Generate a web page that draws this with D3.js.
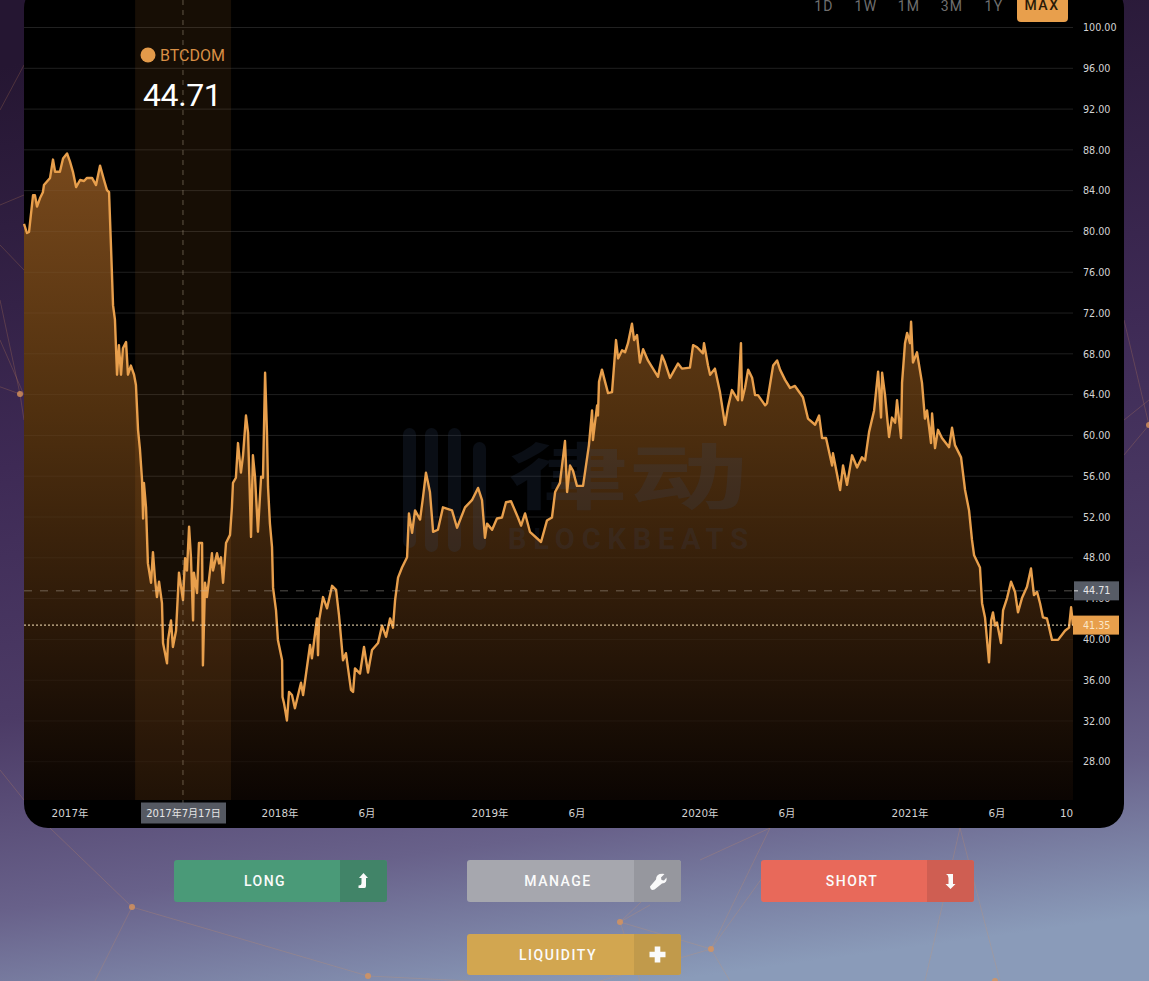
<!DOCTYPE html>
<html><head><meta charset="utf-8">
<style>html,body{margin:0;padding:0;background:#3a2850;overflow:hidden}svg{display:block}</style>
<script src="https://cdn.jsdelivr.net/npm/d3@7"></script></head><body>
<script>
// years since 2017-01-01
const yearsSince2017 = [-0.219,-0.205,-0.195,-0.176,-0.167,-0.157,-0.143,-0.129,-0.124,-0.095,-0.081,-0.071,-0.048,-0.033,-0.014,0,0.014,0.029,0.048,0.067,0.081,0.105,0.124,0.143,0.162,0.176,0.186,0.195,0.205,0.214,0.224,0.233,0.243,0.252,0.267,0.276,0.29,0.305,0.314,0.324,0.333,0.343,0.348,0.352,0.362,0.371,0.386,0.395,0.405,0.414,0.424,0.438,0.443,0.462,0.467,0.481,0.49,0.505,0.519,0.538,0.548,0.557,0.567,0.576,0.586,0.59,0.605,0.614,0.629,0.633,0.643,0.652,0.662,0.676,0.681,0.7,0.71,0.719,0.729,0.743,0.762,0.771,0.776,0.79,0.8,0.814,0.824,0.838,0.848,0.862,0.871,0.881,0.895,0.91,0.919,0.929,0.938,0.943,0.952,0.962,0.967,0.981,0.99,1.01,1.012,1.019,1.033,1.043,1.057,1.071,1.1,1.11,1.143,1.152,1.176,1.181,1.186,1.205,1.224,1.248,1.267,1.281,1.3,1.314,1.338,1.348,1.357,1.381,1.4,1.419,1.438,1.467,1.486,1.505,1.524,1.538,1.548,1.562,1.581,1.605,1.614,1.629,1.643,1.667,1.681,1.695,1.714,1.729,1.752,1.776,1.819,1.843,1.881,1.914,1.943,1.962,1.976,1.986,2.01,2.033,2.057,2.076,2.1,2.133,2.148,2.167,2.19,2.243,2.271,2.295,2.31,2.333,2.357,2.367,2.381,2.395,2.414,2.443,2.471,2.486,2.49,2.51,2.514,2.519,2.533,2.548,2.562,2.581,2.6,2.61,2.629,2.643,2.657,2.676,2.686,2.7,2.714,2.729,2.752,2.8,2.819,2.833,2.857,2.895,2.914,2.952,2.967,2.986,3.014,3.019,3.038,3.048,3.071,3.095,3.119,3.133,3.152,3.181,3.195,3.2,3.214,3.229,3.248,3.262,3.276,3.31,3.319,3.333,3.348,3.367,3.381,3.405,3.429,3.452,3.49,3.514,3.548,3.567,3.581,3.6,3.629,3.633,3.667,3.681,3.7,3.724,3.748,3.771,3.786,3.805,3.829,3.848,3.862,3.867,3.881,3.9,3.914,3.929,3.938,3.957,3.962,3.976,3.986,4,4.005,4.014,4.033,4.057,4.071,4.081,4.1,4.105,4.119,4.133,4.152,4.186,4.2,4.214,4.243,4.262,4.281,4.295,4.305,4.333,4.343,4.357,4.376,4.386,4.395,4.405,4.414,4.433,4.443,4.462,4.481,4.5,4.514,4.533,4.557,4.576,4.59,4.605,4.619,4.633,4.652,4.676,4.705,4.738,4.757,4.767,4.776];
const btcDominance = [80.7,79.8,79.9,83.5,83.5,82.4,83.2,83.8,84.5,85.2,87,85.8,85.8,87.1,87.6,86.8,85.8,84.3,85,84.9,85.2,85.2,84.5,86.4,85,84,83.8,78.6,72.7,71.3,65.9,68.8,65.9,68.5,69.1,65.9,66.8,65.9,64.9,60.5,58.6,55.6,51.8,55.3,52.9,47.4,45.5,48.5,45.8,44.1,45.6,43.5,39.6,37.6,39.9,41.8,39.2,40.8,46.5,43.8,47.9,46.7,51,48,41.8,46.5,44.5,49.4,49.4,37.4,45.5,44.1,45.8,48.4,46.7,48.4,47.4,48,45.5,49.4,50.2,52.9,55.3,55.8,59.2,56.3,58,61.9,60.2,50,58,55.9,50.5,55.9,55.8,66.1,60.2,54.9,51.3,49,45,42.8,39.9,37.9,34.3,33.7,32,34.8,34.5,33.2,35.7,34.5,39.4,38.1,42,38.4,41.8,44.1,43,45.2,44.8,42.3,37.9,38.6,35,34.8,37.1,36.6,39.2,36.7,38.9,39.6,41.3,40.2,42,41.1,43.8,46,47,48,52.3,50.4,52.6,51.7,53.9,56.3,54.4,50.5,50.7,52.9,52.6,50.9,52.9,53.6,54.8,53.6,49.9,51.3,50.7,51.8,51.9,53.4,53.5,51.9,51.1,52.3,50.5,49.5,51.6,51.9,54.4,55.3,59.4,54.4,57,56.5,55,55,59,62.4,59.5,62.9,61.9,65.2,66.4,65.2,64.1,64.2,69.3,67.5,68.3,68.1,69,70.9,69.3,69.8,67.1,68.4,67.3,65.7,67.8,67.1,65.6,67,66.5,66.6,68.8,68.6,68,69,66.8,65.9,66.5,64.2,61,62.7,64.4,63.4,69,63.4,64.6,66.4,65.6,63.9,63.9,62.9,63.1,64.9,66.8,67.3,66.4,65.4,64.6,64.8,63.7,61.6,61,61.9,59.7,59.7,57,58.2,54.6,57,55.1,58,56.8,57.8,57.5,60.3,62.4,66.2,61.7,66.1,63.9,59.8,61.7,61.2,63.4,59.7,65.1,69,70,69,71.1,67.1,68.1,65.1,61.6,62.4,59.2,62.1,58.7,60.5,59.7,58.8,60.7,59,57.8,54.6,52.6,49.7,48.2,47,43.5,42.1,37.7,41.8,42.6,41.3,41.6,39.6,42.8,44,45.6,44.6,42.6,44,45.1,46.9,44.3,44.6,43.5,42.1,42,39.9,39.9,40.8,41.1,43.1,41.35];

const yTickValues = [100,96,92,88,84,80,76,72,68,64,60,56,52,48,44,40,36,32,28];
const xTickValues = [0,1,1.414,2,2.414,3,3.414,4,4.414,4.745];
const xTickLabels = ["2017年","2018年","6月","2019年","6月","2020年","6月","2021年","6月","10"];
const rangeLabels = ["1D","1W","1M","3M","1Y"];
const hoverYear = 0.538, hoverValue = 44.71, lastValue = 41.35;
const hoverBand = [0.31, 0.767];
const hoverDateLabel = "2017年7月17日", seriesName = "BTCDOM";

const W=1149,H=981;
const svg=d3.select("body").append("svg").attr("width",W).attr("height",H).attr("viewBox",`0 0 ${W} ${H}`);
const defs=svg.append("defs");
const bg=defs.append("linearGradient").attr("id","bg").attr("x1",0.42).attr("y1",0).attr("x2",0.58).attr("y2",1);
[[0,"#251632"],[0.4,"#3e2a55"],[0.65,"#4c3b66"],[0.84,"#68618a"],[1,"#8a9bb9"]].forEach(s=>bg.append("stop").attr("offset",s[0]).attr("stop-color",s[1]));
svg.append("rect").attr("width",W).attr("height",H).attr("fill","url(#bg)");

// background network decoration
const netNodes=[[20,394],[132,907],[368,976],[620,922],[711,949],[995,981],[1149,425]];
const netLinks=[[[-5,385],[20,394]],[[20,394],[0,300]],[[20,394],[24,420]],[[0,110],[24,65]],[[0,205],[24,195]],[[0,245],[24,270]],[[0,340],[24,395]],
[[50,828],[132,907]],[[132,907],[95,981]],[[132,907],[368,976]],[[368,976],[470,981]],[[0,770],[24,800]],
[[711,949],[770,828]],[[711,949],[620,922]],[[711,949],[775,860]],[[620,922],[680,865]],[[620,922],[650,905]],[[711,949],[730,981]],[[711,949],[600,981]],[[620,922],[640,981]],
[[960,828],[1000,981]],[[960,828],[925,981]],[[770,828],[700,860]],[[1124,320],[1149,425]],[[1124,455],[1149,425]],[[1124,420],[1149,400]]];
svg.append("g").selectAll("line").data(netLinks).join("line")
 .attr("x1",d=>d[0][0]).attr("y1",d=>d[0][1]).attr("x2",d=>d[1][0]).attr("y2",d=>d[1][1])
 .attr("stroke","#e0955a").attr("stroke-opacity",.22).attr("stroke-width",1);
svg.append("g").selectAll("circle").data(netNodes).join("circle")
 .attr("cx",d=>d[0]).attr("cy",d=>d[1]).attr("r",3).attr("fill","#d9935a").attr("fill-opacity",.8);

// panel
svg.append("rect").attr("x",24).attr("y",-16).attr("width",1100).attr("height",844).attr("rx",24).attr("fill","#000");

const x=d3.scaleLinear().domain([-0.219,4.776]).range([24,1073]);
const y=d3.scaleLinear().domain([100,24.2]).range([27,800]);
const data=yearsSince2017.map((t,i)=>({t,v:btcDominance[i]}));

const ag=defs.append("linearGradient").attr("id","areaG").attr("gradientUnits","userSpaceOnUse").attr("x1",0).attr("x2",0).attr("y1",y(88)).attr("y2",y(24.2));
[[0,"#78491c"],[0.4,"#50300f"],[0.7,"#2f1b09"],[1,"#0b0502"]].forEach(s=>ag.append("stop").attr("offset",s[0]).attr("stop-color",s[1]));

// grid
svg.append("g").selectAll("line").data(yTickValues).join("line")
 .attr("x1",x.range()[0]).attr("x2",x.range()[1]).attr("y1",d=>y(d)+.5).attr("y2",d=>y(d)+.5)
 .attr("stroke","#171717").attr("stroke-width",1);

// area
svg.append("path").datum(data).attr("fill","url(#areaG)").attr("d",d3.area().x(d=>x(d.t)).y0(y.range()[1]).y1(d=>y(d.v)));
svg.append("g").selectAll("line").data(yTickValues).join("line")
 .attr("x1",x.range()[0]).attr("x2",x.range()[1]).attr("y1",d=>y(d)+.5).attr("y2",d=>y(d)+.5)
 .attr("stroke","#fff").attr("stroke-opacity",.045).attr("stroke-width",1);

// hover band
svg.append("rect").attr("x",x(hoverBand[0])).attr("width",x(hoverBand[1])-x(hoverBand[0])).attr("y",0).attr("height",y.range()[1])
 .attr("fill","#e08a30").attr("fill-opacity",.1);

// watermark
const wm=svg.append("g").attr("fill","#3a4c72").attr("fill-opacity",.18);
[[403,428,548],[425,428,552],[448,428,552],[473,442,550]].forEach(b=>wm.append("rect").attr("x",b[0]).attr("y",b[1]).attr("width",13).attr("height",b[2]-b[1]).attr("rx",6.5));
wm.append("text").attr("x",508).attr("y",503).attr("font-family","'Noto Sans CJK SC'").attr("font-weight",700).attr("font-size",72).attr("textLength",240).attr("lengthAdjust","spacingAndGlyphs").text("律动");
wm.append("text").attr("x",508).attr("y",549).attr("font-family","Roboto").attr("font-weight",700).attr("font-size",29).attr("textLength",240).attr("lengthAdjust","spacing").text("BLOCKBEATS");

// line
svg.append("path").datum(data).attr("fill","none").attr("stroke","#e89f4c").attr("stroke-width",2.4).attr("stroke-linejoin","round")
 .attr("d",d3.line().x(d=>x(d.t)).y(d=>y(d.v)));

// crosshair
svg.append("line").attr("x1",x(hoverYear)).attr("x2",x(hoverYear)).attr("y1",0).attr("y2",803).attr("stroke","#c9b9a0").attr("stroke-opacity",.42).attr("stroke-dasharray","5 5");
svg.append("line").attr("x1",x.range()[0]).attr("x2",1080).attr("y1",y(hoverValue)).attr("y2",y(hoverValue)).attr("stroke","#c9c2b4").attr("stroke-opacity",.42).attr("stroke-dasharray","8 8");
svg.append("line").attr("x1",x.range()[0]).attr("x2",1080).attr("y1",y(lastValue)).attr("y2",y(lastValue)).attr("stroke","#fbe6bd").attr("stroke-dasharray","2 2");

// axes
const axisFont="'DejaVu Sans'";
const yAxis=svg.append("g").attr("transform","translate(1083,0.6)").call(d3.axisRight(y).tickValues(yTickValues).tickSize(0).tickPadding(0).tickFormat(d3.format(".2f")));
yAxis.select(".domain").remove();
yAxis.selectAll("text").attr("fill","#d4d4d4").attr("font-size",9.6).attr("font-family",axisFont);
const xAxis=svg.append("g").attr("transform","translate(-0.5,810)").call(d3.axisBottom(x).tickValues(xTickValues).tickSize(0).tickPadding(0).tickFormat((d,i)=>xTickLabels[i]));
xAxis.select(".domain").remove();
xAxis.selectAll("text").attr("fill","#d4d4d4").attr("font-size",10.4).attr("font-family","'DejaVu Sans','Noto Sans CJK SC'");

// tags
function tag(x0,x1,yc,h,fill,txt,color,tx,anchor){
 svg.append("rect").attr("x",x0).attr("y",yc-h/2).attr("width",x1-x0).attr("height",h).attr("fill",fill);
 svg.append("text").attr("x",tx).attr("y",yc).attr("dy","0.36em").attr("fill",color).attr("text-anchor",anchor||"start").attr("font-size",anchor?10:9.6).attr("font-family","'DejaVu Sans','Noto Sans CJK SC'").text(txt);
}
tag(1074,1119,y(hoverValue),19,"#575c66",hoverValue.toFixed(2),"#e6e6e6",1083);
tag(1073,1119,y(lastValue),19,"#e89f4c",lastValue.toFixed(2),"#fbe7c8",1083);
tag(141,226,813,21,"#555962",hoverDateLabel,"#e6e6e6",183.5,"middle");
svg.append("line").attr("x1",1074).attr("x2",1078).attr("y1",y(hoverValue)).attr("y2",y(hoverValue)).attr("stroke","#ddd");

// legend
svg.append("circle").attr("cx",148).attr("cy",55).attr("r",7.5).attr("fill","#e39a4a");
svg.append("text").attr("x",160).attr("y",61).attr("fill","#d98f45").attr("font-family","Roboto").attr("font-size",16).text(seriesName);
svg.append("text").attr("x",143).attr("y",106).attr("fill","#fff").attr("font-family","Roboto").attr("font-size",32).attr("letter-spacing",-.4).text(hoverValue.toFixed(2));

// range buttons
const rangeX=[824,866,909,952,994];
svg.append("g").selectAll("text").data(rangeLabels).join("text").attr("x",(d,i)=>rangeX[i]).attr("y",11).attr("text-anchor","middle")
 .attr("fill","#6f6f6f").attr("font-family","Roboto").attr("font-size",14).attr("letter-spacing",1.3).text(d=>d);
svg.append("rect").attr("x",1017).attr("y",-10).attr("width",51).attr("height",32).attr("rx",4).attr("fill","#e89f4c");
svg.append("text").attr("x",1042).attr("y",10).attr("text-anchor","middle").attr("fill","#2a1a08").attr("font-family","Roboto").attr("font-weight",500).attr("font-size",14).attr("letter-spacing",1.5).text("MAX");

// action buttons
const upIcon="M0,-8 L4.5,-3 L2.5,-3 L2.5,5 Q2.5,7 1,7 L-5,7 L-5,4.5 Q-2,4.5 -2,2 L-2,-3 L-4.5,-3 Z";
const downIcon="M0,8 L5,3 L2.5,3 L2.5,-7 L-4.5,-7 Q-2,-6 -2,-3 L-2,3 L-5,3 Z";
const wrench="M7,-7 L3.5,-3.5 L4,-1 L6.5,-.5 L9,-3.5 Q10,2 4.5,2.5 L-3,8.5 Q-7,10 -7.5,5.5 L-1.5,-1.5 Q-1.5,-8 7,-7 Z";
const plus="M-2.8,-8 H2.8 V-2.8 H8 V2.8 H2.8 V8 H-2.8 V2.8 H-8 V-2.8 H-2.8 Z";
const buttons=[
 {t:"LONG",x:174,y:860,w:213,h:42,s:166,c:"#4a9a78",d:"#418468",i:upIcon},
 {t:"MANAGE",x:467,y:860,w:214,h:42,s:167,c:"#a6a7ae",d:"#96979e",i:wrench},
 {t:"SHORT",x:761,y:860,w:213,h:42,s:166,c:"#e8695a",d:"#cf5e52",i:downIcon},
 {t:"LIQUIDITY",x:467,y:934,w:214,h:41,s:167,c:"#d2a650",d:"#c19a4b",i:plus}];
buttons.forEach(b=>{
 const g=svg.append("g").attr("transform",`translate(${b.x},${b.y})`);
 g.append("rect").attr("width",b.w).attr("height",b.h).attr("rx",3).attr("fill",b.c);
 g.append("path").attr("d",`M${b.s},0 H${b.w-3} Q${b.w},0 ${b.w},3 V${b.h-3} Q${b.w},${b.h} ${b.w-3},${b.h} H${b.s} Z`).attr("fill",b.d);
 g.append("text").attr("x",91).attr("y",b.h/2+5).attr("text-anchor","middle").attr("fill","#fbfbfb").attr("font-family","Roboto").attr("font-weight",500).attr("font-size",14).attr("letter-spacing",1.5).text(b.t);
 g.append("path").attr("d",b.i).attr("fill","#fafafa").attr("transform",`translate(${(b.s+b.w)/2},${b.h/2})`);
});
</script></body></html>
